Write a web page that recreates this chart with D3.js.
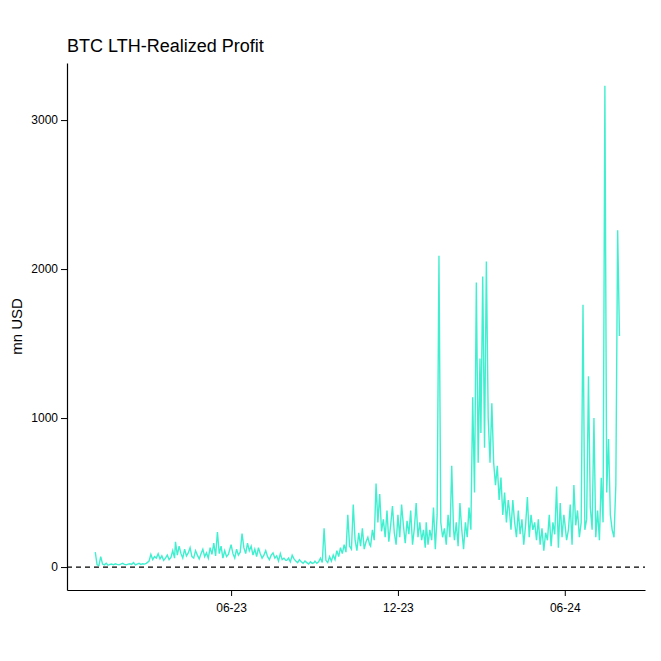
<!DOCTYPE html>
<html><head><meta charset="utf-8">
<script src="https://cdn.jsdelivr.net/npm/d3@7"></script>
<style>body{margin:0;background:#fff}</style></head>
<body><svg id="c" width="661" height="661"></svg>
<script>
// Month start dates and values sampled every 2 days (mn USD)
const months = ["2023-01-03","2023-02-02","2023-03-01","2023-04-01","2023-05-01","2023-06-01","2023-07-01","2023-08-01","2023-09-01","2023-10-01","2023-11-01","2023-12-01","2024-01-01","2024-02-01","2024-03-01","2024-04-01","2024-05-01","2024-06-01","2024-07-01"];
const monthValues = [
 [100,15,10,70,20,15,25,12,18,20,15,22,18,15,20],
 [25,18,15,20,22,18,30,15,20,25,18,22,20,25],
 [30,40,85,50,70,60,90,55,75,45,60,80,50,65,110,60],
 [170,80,140,90,60,120,75,95,130,70,60,110,80,55,90],
 [120,70,95,60,130,85,160,75,235,90,140,60,110,70,85],
 [150,90,60,120,80,100,225,130,90,160,110,140,80,120,70],
 [130,90,60,80,110,70,50,80,95,60,75,40,90,50,60,45],
 [45,60,35,80,55,40,30,50,35,25,40,30,20,35,25,30],
 [40,25,35,60,30,260,45,30,70,40,80,50,110,70,130],
 [90,150,100,350,140,120,420,180,110,230,140,260,120,170,200,150],
 [140,250,180,560,300,490,240,320,200,380,170,280,410,230,150],
 [350,200,420,280,160,310,220,380,150,260,430,200,300,180,250,130],
 [300,150,250,180,400,120,350,2090,300,200,260,150,350,200,680,250],
 [180,300,140,430,250,120,300,200,400,250,1140,500,1910,700,1400],
 [900,1950,800,2050,1000,700,1100,700,550,680,450,600,350,500,300,450],
 [400,250,450,300,200,380,220,320,150,280,470,200,350,250,300],
 [180,320,150,260,110,230,180,350,140,300,220,540,130,430,200,350],
 [300,180,250,420,150,550,280,380,200,300,1760,250,320,1280,400],
 [250,1000,200,380,180,600,300,3230,500,860,350,250,200,550,2260,1550]
];
const yTicks = [0,1000,2000,3000];
const xTicks = ["2023-06-01","2023-12-01","2024-06-01"];

const data = [];
months.forEach((m,k)=>{const s=new Date(m+"T00:00:00");
  monthValues[k].forEach((v,i)=>data.push({d:d3.timeDay.offset(s,2*i),v}));});

const svg = d3.select("#c");
const L=67,R=645,T=63,B=590;
const x = d3.scaleTime().domain([new Date("2022-12-03"),new Date("2024-08-28")]).range([L,R]);
const y = d3.scaleLinear().domain([-154,3383]).range([B,T]);

svg.append("g").attr("transform",`translate(0,${B})`)
 .call(d3.axisBottom(x).tickValues(xTicks.map(s=>new Date(s+"T00:00:00"))).tickFormat(d3.timeFormat("%m-%y")).tickSizeOuter(0))
 .call(g=>{g.selectAll("text").attr("font-size",12).attr("fill","#000").attr("dy","1.1em");g.select(".domain").attr("stroke","#000").attr("stroke-width",1.2)});
svg.append("g").attr("transform",`translate(${L},0)`)
 .call(d3.axisLeft(y).tickValues(yTicks).tickFormat(d3.format("d")).tickSizeOuter(0))
 .call(g=>{g.selectAll("text").attr("font-size",12).attr("fill","#000");g.select(".domain").attr("stroke","#000").attr("stroke-width",1.2)});
svg.selectAll("text").attr("font-family","Liberation Sans, Arial, sans-serif");

svg.append("line").attr("x1",L).attr("x2",R).attr("y1",y(0)).attr("y2",y(0))
 .attr("stroke","#000").attr("stroke-dasharray","5,4").attr("stroke-width",1.2);

svg.append("path").datum(data).attr("fill","none").attr("stroke","#3FF0D0").attr("stroke-width",1.4)
 .attr("d",d3.line().x(d=>x(d.d)).y(d=>y(d.v)));

svg.append("text").attr("x",67).attr("y",52).attr("font-size",18).attr("font-family","Liberation Sans, Arial, sans-serif").text("BTC LTH-Realized Profit");
svg.append("text").attr("transform",`translate(22,${(T+B)/2}) rotate(-90)`).attr("text-anchor","middle")
 .attr("font-size",15).attr("font-family","Liberation Sans, Arial, sans-serif").text("mn USD");
</script></body></html>
